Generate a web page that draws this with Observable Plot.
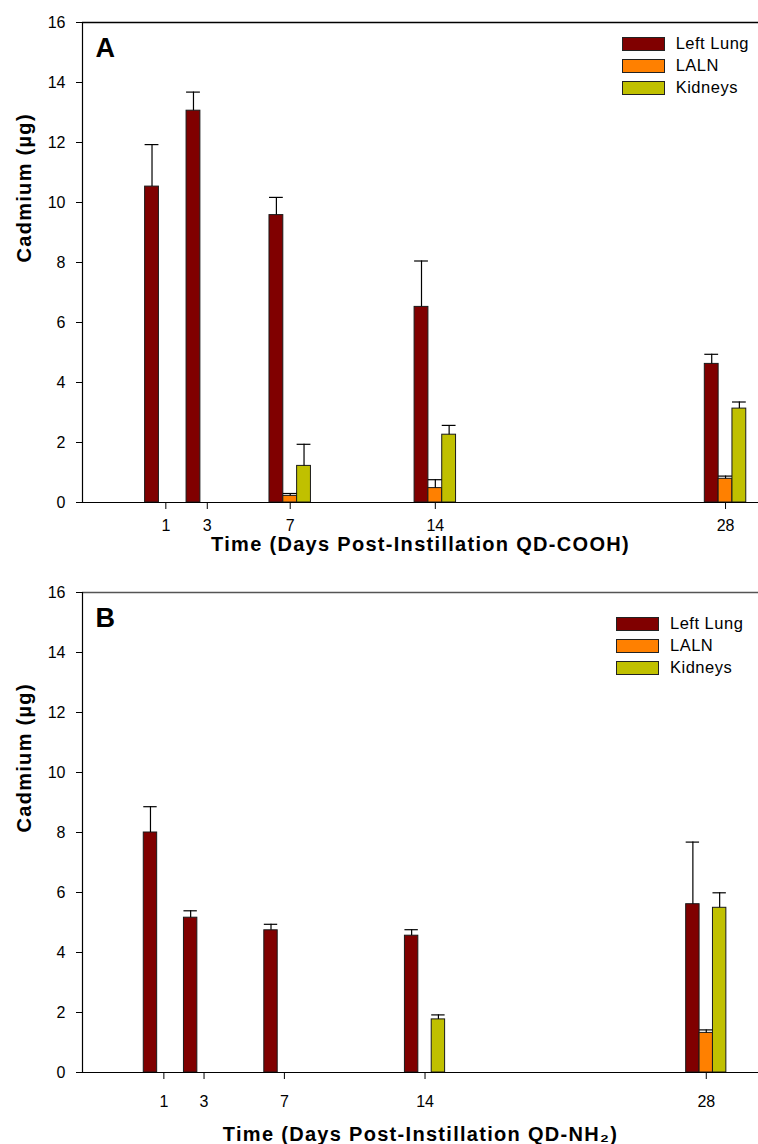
<!DOCTYPE html>
<html><head><meta charset="utf-8">
<script src="https://cdn.jsdelivr.net/npm/d3@7"></script>
<script src="https://cdn.jsdelivr.net/npm/@observablehq/plot@0.6"></script>
<style>
body{margin:0;background:#fff;font-family:"Liberation Sans",Arial,sans-serif;}
#wrap{position:relative;width:758px;}
.panel{position:relative;width:758px;height:572px;overflow:hidden;}
.panel svg{display:block;}
.legend{position:absolute;}
.row{position:absolute;left:0;height:14px;white-space:nowrap;}
.sw{position:absolute;left:0;top:0;width:41px;height:11.4px;border:1px solid #222;}
.lt{position:absolute;left:54px;top:-3px;font-size:16.5px;letter-spacing:0.5px;line-height:18px;color:#000;}
</style></head><body><div id="wrap"></div>
<script>
const days = [1, 3, 7, 14, 28];
const tickDays = [1, 3, 7, 14, 28];
const yTicks = [0, 2, 4, 6, 8, 10, 12, 14, 16];
const series = ["Left Lung", "LALN", "Kidneys"];
const colors = ["#800000", "#FF8000", "#C0C000"];

// Panel A: QD-COOH (mean and upper error, µg)
const lungA = [10.53, 13.06, 9.58, 6.52, 4.62];
const lungAErr = [1.40, 0.62, 0.59, 1.53, 0.32];
const lalnA = [null, null, 0.22, 0.48, 0.79];
const lalnAErr = [null, null, 0.08, 0.28, 0.09];
const kidA = [null, null, 1.22, 2.26, 3.13];
const kidAErr = [null, null, 0.72, 0.31, 0.22];

// Panel B: QD-NH2
const lungB = [8.00, 5.16, 4.74, 4.56, 5.61];
const lungBErr = [0.86, 0.23, 0.20, 0.20, 2.07];
const lalnB = [null, null, null, null, 1.32];
const lalnBErr = [null, null, null, null, 0.10];
const kidB = [null, null, null, 1.77, 5.49];
const kidBErr = [null, null, null, 0.15, 0.50];

const yLabel = "Cadmium (µg)";
const xLabelA = "Time (Days Post-Instillation QD-COOH)";
const xLabelB = "Time (Days Post-Instillation QD-NH₂)";

const FONT = '"Liberation Sans", Arial, Helvetica, sans-serif';

function makePanel(cfg) {
  const table = [];
  cfg.values.forEach((vals, si) => vals.forEach((v, di) => {
    if (v != null) table.push({series: series[si], si, day: days[di], value: v, err: cfg.errors[si][di]});
  }));
  const bw = 2 / 3;
  const cx = d => d.day + (d.si - 1) * bw;
  const errs = table.filter(d => d.err != null);
  const plot = Plot.plot({
    width: 758,
    height: 572,
    marginLeft: 82,
    marginRight: 0,
    marginTop: cfg.marginTop,
    marginBottom: cfg.marginBottom,
    style: {fontFamily: FONT, fontSize: "16px", color: "#000", background: "#fff"},
    x: {domain: cfg.xDomain, ticks: tickDays, tickSize: 7, tickPadding: cfg.xTickPad, label: null},
    y: {domain: [0, 16], ticks: yTicks, tickSize: 6, tickPadding: 11, label: null},
    color: {domain: series, range: colors},
    marks: [
      Plot.rect(table, {x1: d => cx(d) - bw / 2, x2: d => cx(d) + bw / 2, y1: 0, y2: "value", fill: "series", stroke: "#1a1a1a", strokeWidth: 1}),
      Plot.ruleX(errs, {x: cx, y1: "value", y2: d => d.value + d.err, stroke: "#000", strokeWidth: 1.2}),
      Plot.ruleY(errs, {y: d => d.value + d.err, x1: d => cx(d) - bw / 2, x2: d => cx(d) + bw / 2, stroke: "#000", strokeWidth: 1.2}),
      Plot.ruleY([16], {stroke: cfg.topColor, strokeWidth: 1.3}),
      Plot.ruleY([0], {stroke: "#000", strokeWidth: 1.2}),
      Plot.ruleX([cfg.xDomain[0]], {stroke: "#000", strokeWidth: 1.2}),
      Plot.text([cfg.letter], {text: d => d, frameAnchor: "top-left", textAnchor: "start", lineAnchor: "top", dx: 13, dy: cfg.letterDy, fontSize: 27, fontWeight: "bold"}),
      Plot.text([cfg.xLabel], {text: d => d, frameAnchor: "bottom", lineAnchor: "bottom", dy: cfg.xLabelDy, fontSize: 20, fontWeight: "bold"}),
      Plot.text([yLabel], {text: d => d, frameAnchor: "left", rotate: -90, lineAnchor: "middle", dx: -58, fontSize: 20, fontWeight: "bold"})
    ]
  });
  d3.select(plot).selectAll("text")
    .filter(function () { return this.textContent === cfg.xLabel || this.textContent === yLabel; })
    .attr("letter-spacing", "1.3px");
  const panel = document.createElement("div");
  panel.className = "panel";
  panel.appendChild(plot);
  const legend = document.createElement("div");
  legend.className = "legend";
  legend.style.left = cfg.legendLeft + "px";
  legend.style.top = cfg.legendTop + "px";
  series.forEach((s, i) => {
    const row = document.createElement("div");
    row.className = "row";
    row.style.top = (i * 22) + "px";
    const sw = document.createElement("div");
    sw.className = "sw";
    sw.style.background = colors[i];
    const lt = document.createElement("span");
    lt.className = "lt";
    lt.textContent = s;
    row.appendChild(sw);
    row.appendChild(lt);
    legend.appendChild(row);
  });
  panel.appendChild(legend);
  return panel;
}

const wrap = document.getElementById("wrap");
wrap.appendChild(makePanel({
  values: [lungA, lalnA, kidA], errors: [lungAErr, lalnAErr, kidAErr],
  xDomain: [-3.02, 29.59], marginTop: 22, marginBottom: 70, xTickPad: 10,
  topColor: "#000", letter: "A", letterDy: 15.7, xLabel: xLabelA, xLabelDy: 48.7,
  legendLeft: 621.7, legendTop: 37.3
}));
wrap.appendChild(makePanel({
  values: [lungB, lalnB, kidB], errors: [lungBErr, lalnBErr, kidBErr],
  xDomain: [-3.05, 30.6], marginTop: 20, marginBottom: 72, xTickPad: 16,
  topColor: "#555", letter: "B", letterDy: 15.3, xLabel: xLabelB, xLabelDy: 68,
  legendLeft: 616, legendTop: 45.3
}));
</script></body></html>
